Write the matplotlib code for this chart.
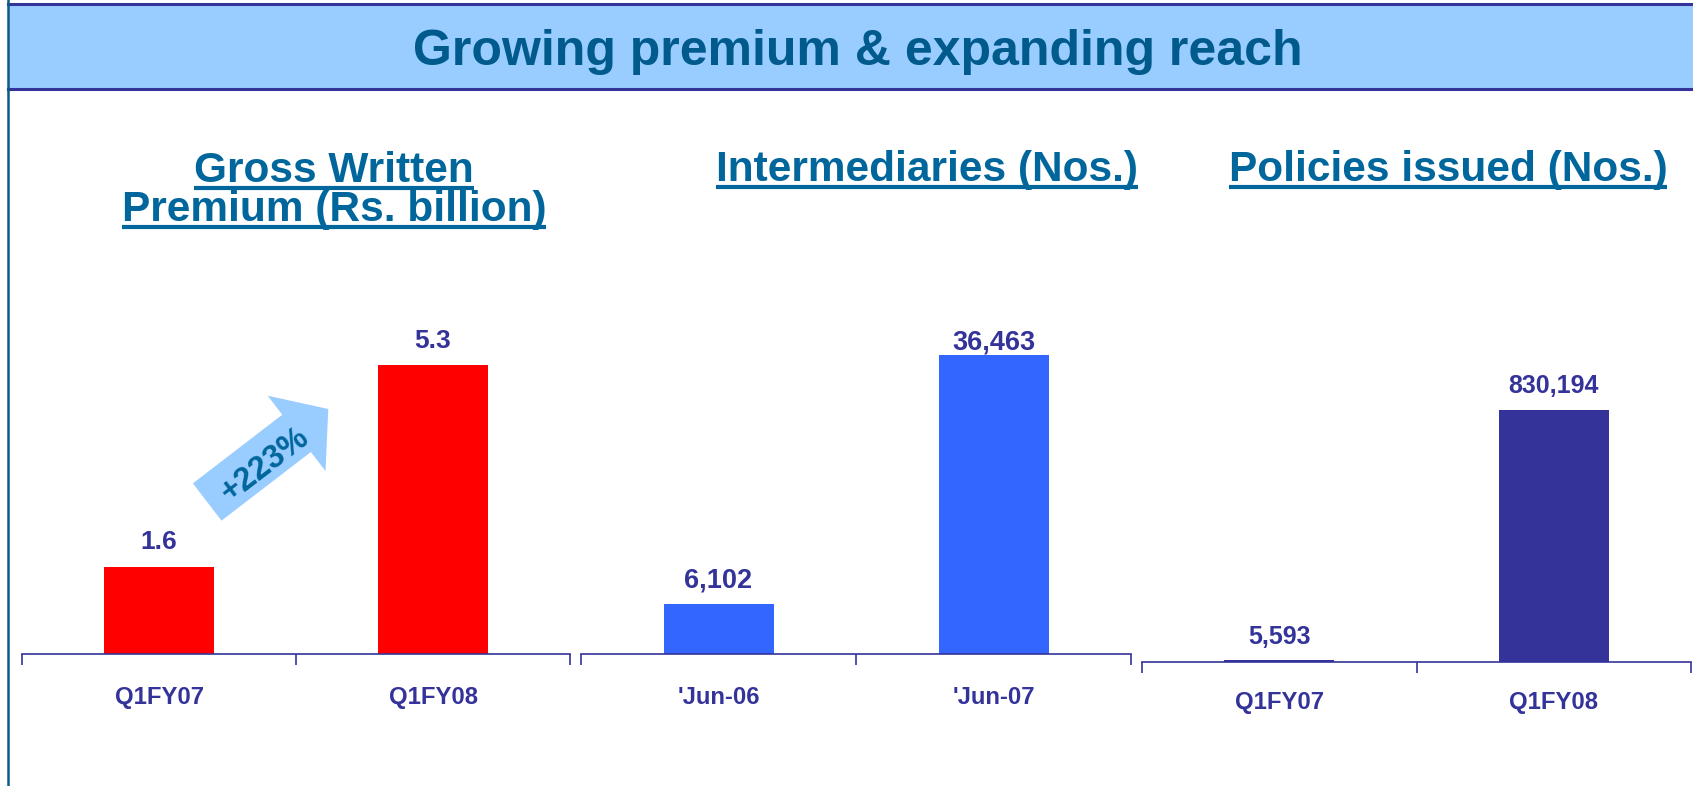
import matplotlib
matplotlib.use('Agg')
import matplotlib.pyplot as plt
from matplotlib import font_manager
from matplotlib.patches import FancyArrow, Rectangle
from matplotlib.lines import Line2D

# chart data
gwp_periods = ['Q1FY07', 'Q1FY08']
gwp_values = [1.6, 5.3]
inter_periods = ["'Jun-06", "'Jun-07"]
inter_values = [6102, 36463]
pol_periods = ['Q1FY07', 'Q1FY08']
pol_values = [5593, 830194]

title = 'Growing premium & expanding reach'
growth_label = '+223%'

W, H = 1693, 786
TEAL = '#00669C'
INK = '#333399'

names = {f.name for f in font_manager.fontManager.ttflist}
narrow = 'Liberation Sans Narrow' in names
plt.rcParams['font.family'] = ['Liberation Sans', 'DejaVu Sans']

fig = plt.figure(figsize=(W / 100, H / 100), dpi=100)
fig.patch.set_facecolor('white')


def fx(px):
    return px / W


def fy(py):
    # py measured from top of the image
    return 1 - py / H


# title band and frame
fig.add_artist(Rectangle((fx(8), fy(89)), 1, (89 - 5) / H, transform=fig.transFigure,
                         facecolor='#99CCFF', edgecolor='none', zorder=0))
fig.add_artist(Line2D([fx(8), 1], [fy(4), fy(4)], color=INK, lw=2.2))
fig.add_artist(Line2D([fx(8), 1], [fy(89), fy(89)], color=INK, lw=2.2))
fig.add_artist(Line2D([fx(8), fx(8)], [0, 1], color='#0B5A8A', lw=1.8))
fig.text(fx(858), fy(65), title, ha='center', va='baseline',
         fontsize=44 if narrow else 36, fontweight='bold', color='#005A8C',
         family=['Liberation Sans Narrow', 'Liberation Sans'] if narrow else ['Liberation Sans'])

# subtitles (underlined)
subtitles = [
    ('Gross Written', 334, 182),
    ('Premium (Rs. billion)', 334, 221),
    ('Intermediaries (Nos.)', 927, 181),
    ('Policies issued (Nos.)', 1448, 181),
]
sub_texts = []
for txt, cx, base in subtitles:
    t = fig.text(fx(cx), fy(base), txt, ha='center', va='baseline',
                 fontsize=30.5, fontweight='bold', color=TEAL)
    sub_texts.append((t, base))


def panel(left, right, baseline, values, periods, color, ymax_scale, fmt, gaps, lab_size, pad):
    ax = fig.add_axes([fx(left), fy(baseline), (right - left) / W, 400 / H])
    x = list(range(len(values)))
    bars = ax.bar(x, values, width=0.4, color=color, zorder=2)
    ax.set_xlim(-0.5, len(values) - 0.5)
    ax.set_ylim(0, ymax_scale)
    for s in ['top', 'right', 'left']:
        ax.spines[s].set_visible(False)
    ax.spines['bottom'].set_color(INK)
    ax.spines['bottom'].set_linewidth(1.2)
    ax.set_yticks([])
    ax.set_xticks(x)
    ax.set_xticklabels(periods, fontsize=17.2, fontweight='bold', color=INK)
    ax.set_xticks([i - 0.5 for i in range(len(values) + 1)], minor=True)
    ax.tick_params(axis='x', which='major', length=0, pad=pad)
    ax.tick_params(axis='x', which='minor', length=8, width=1.2, color=INK, direction='out')
    ax.patch.set_alpha(0)
    for b, v, g in zip(bars, values, gaps):
        ax.annotate(fmt(v), (b.get_x() + b.get_width() / 2, v), xytext=(0, g * 0.72),
                    textcoords='offset points', ha='center', va='baseline',
                    fontsize=lab_size, fontweight='bold', color=INK)
    return ax


# bar heights in px: 289 for 5.3, 299 for 36463, 252 for 830194 (400px tall axes)
ax1 = panel(22, 570, 654, gwp_values, gwp_periods, '#FF0000',
            max(gwp_values) * 400 / 289, lambda v: f'{v:.1f}', [18, 17], 19, 23)
ax2 = panel(581, 1131, 654, inter_values, inter_periods, '#3366FF',
            max(inter_values) * 400 / 299, lambda v: f'{v:,}', [16, 6], 19.5, 23)
ax3 = panel(1142, 1691, 662, pol_values, pol_periods, INK,
            max(pol_values) * 400 / 252, lambda v: f'{v:,}', [16, 17], 18, 21)

# growth arrow between the two premium bars, drawn in pixel space
tail = (207.2, 502.0)
tip = (328.3, 409.0)
arrow = FancyArrow(tail[0], H - tail[1], tip[0] - tail[0], -(tip[1] - tail[1]),
                   width=47, head_width=95, head_length=40, length_includes_head=True,
                   transform=None, facecolor='#99CCFF', edgecolor='none', zorder=1)
fig.add_artist(arrow)
fig.text(fx(265.5), fy(465), growth_label, rotation=37.5, ha='center', va='center',
         rotation_mode='anchor', fontsize=23.5, fontweight='bold', color=TEAL, zorder=3)

# underline the subtitles
fig.canvas.draw()
renderer = fig.canvas.get_renderer()
for t, base in sub_texts:
    bb = t.get_window_extent(renderer)
    y = fy(base + 6)
    fig.add_artist(Line2D([bb.x0 / W, bb.x1 / W], [y, y], color=TEAL, lw=3.0,
                          solid_capstyle='butt'))

fig.savefig('out.png', dpi=100)
